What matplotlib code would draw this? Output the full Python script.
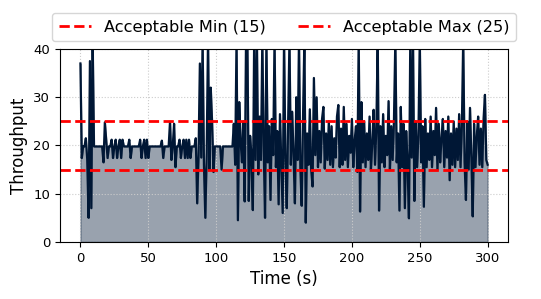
import matplotlib
matplotlib.use("Agg")
from matplotlib import pyplot as plt
import numpy as np

throughput = [
    37.0, 17.4, 19.8, 19.8, 21.5, 17.2, 5.0, 37.5, 7.0, 42.0,
    19.8, 19.8, 19.8, 19.8, 19.8, 19.8, 19.8, 16.5, 24.8, 21.2,
    17.4, 19.8, 19.8, 21.2, 17.4, 19.8, 21.2, 17.4, 19.8, 21.2,
    17.4, 21.2, 19.8, 19.8, 19.8, 19.8, 21.2, 17.4, 19.8, 19.8,
    19.8, 19.8, 19.8, 19.8, 21.2, 17.4, 19.8, 21.2, 17.4, 21.2,
    17.4, 19.8, 19.8, 19.8, 19.8, 19.8, 19.8, 19.8, 19.8, 19.8,
    21.0, 17.4, 19.8, 19.8, 19.8, 19.8, 24.9, 17.0, 19.8, 24.5,
    15.5, 19.8, 19.8, 21.2, 17.4, 19.8, 21.2, 17.4, 21.2, 17.4,
    21.2, 17.4, 19.8, 19.8, 19.8, 21.5, 8.0, 18.0, 37.0, 17.5,
    42.0, 16.0, 5.0, 18.5, 42.0, 15.0, 32.0, 24.8, 14.5, 19.8,
    19.8, 19.8, 19.8, 19.8, 15.0, 19.8, 19.8, 19.8, 19.8, 19.8,
    19.8, 19.8, 19.8, 24.5, 16.0, 42.0, 4.5, 29.0, 21.0, 16.5,
    25.0, 8.4, 42.0, 42.0, 8.5, 22.0, 18.0, 6.6, 42.0, 17.0,
    42.0, 14.0, 26.0, 17.0, 42.0, 20.0, 5.0, 42.0, 16.5, 24.0,
    8.7, 25.5, 18.0, 42.0, 15.5, 23.0, 7.8, 26.5, 16.0, 6.0,
    42.0, 17.5, 7.0, 24.0, 42.0, 16.0, 27.0, 18.0, 8.0, 30.0,
    17.0, 42.0, 15.5, 7.5, 26.0, 42.0, 4.0, 22.5, 16.0, 27.5,
    15.0, 11.5, 34.0, 18.0, 30.0, 15.5, 23.0, 16.5, 25.5, 28.0,
    15.2, 22.5, 17.0, 25.0, 16.0, 24.0, 15.5, 21.5, 17.5, 26.0,
    28.4, 15.5, 23.5, 16.0, 28.0, 17.0, 24.5, 15.5, 22.0, 18.5,
    25.5, 15.5, 21.0, 24.0, 14.5, 42.0, 6.3, 29.0, 16.5, 25.0,
    15.5, 22.5, 17.0, 26.0, 15.0, 20.5, 27.4, 16.0, 23.5, 42.0,
    6.5, 24.0, 16.5, 26.5, 15.5, 22.0, 18.0, 29.2, 15.0, 24.0,
    17.0, 25.5, 42.0, 16.5, 22.5, 6.5, 28.0, 15.5, 24.5, 7.0,
    23.0, 16.0, 4.9, 42.0, 17.5, 42.0, 8.5, 25.0, 15.5, 22.0,
    42.0, 16.5, 24.0, 7.3, 25.5, 15.5, 22.5, 17.0, 26.0, 15.5,
    23.0, 18.0, 27.8, 15.0, 24.5, 16.5, 21.5, 25.5, 15.5, 23.0,
    17.5, 26.0, 12.8, 22.5, 16.0, 25.0, 15.5, 23.5, 17.0, 26.5,
    15.5, 24.0, 42.0, 16.5, 8.7, 25.0, 15.0, 27.8, 17.5, 5.3,
    24.5, 15.5, 22.0, 26.0, 16.0, 23.5, 15.5, 25.5, 30.5, 17.0,
    16.0,
]
time_s = np.arange(len(throughput))

min_ok = 15
max_ok = 25
navy = "#001735"

fig = plt.figure(figsize=(5.41, 2.99), dpi=100)
ax = fig.add_axes([0.111, 0.191, 0.828, 0.645])

ax.fill_between(time_s, throughput, color=navy, alpha=0.4)
ax.plot(time_s, throughput, color=navy, linewidth=1.6)

ax.axhline(min_ok, color="red", linestyle="--", linewidth=2,
           label=f"Acceptable Min ({min_ok})")
ax.axhline(max_ok, color="red", linestyle="--", linewidth=2,
           label=f"Acceptable Max ({max_ok})")

ax.set_ylim(0, 40)
ax.set_yticks([0, 10, 20, 30, 40])
ax.set_xlabel("Time (s)", fontsize=12)
ax.set_ylabel("Throughput", fontsize=12)
ax.tick_params(labelsize=9.5)
ax.grid(True, linestyle=":", color="#cccccc", linewidth=0.8)

ax.legend(loc="lower center", bbox_to_anchor=(0.5, 1.0), ncol=2,
          fontsize=11.6)

fig.savefig("out.png", dpi=100)
